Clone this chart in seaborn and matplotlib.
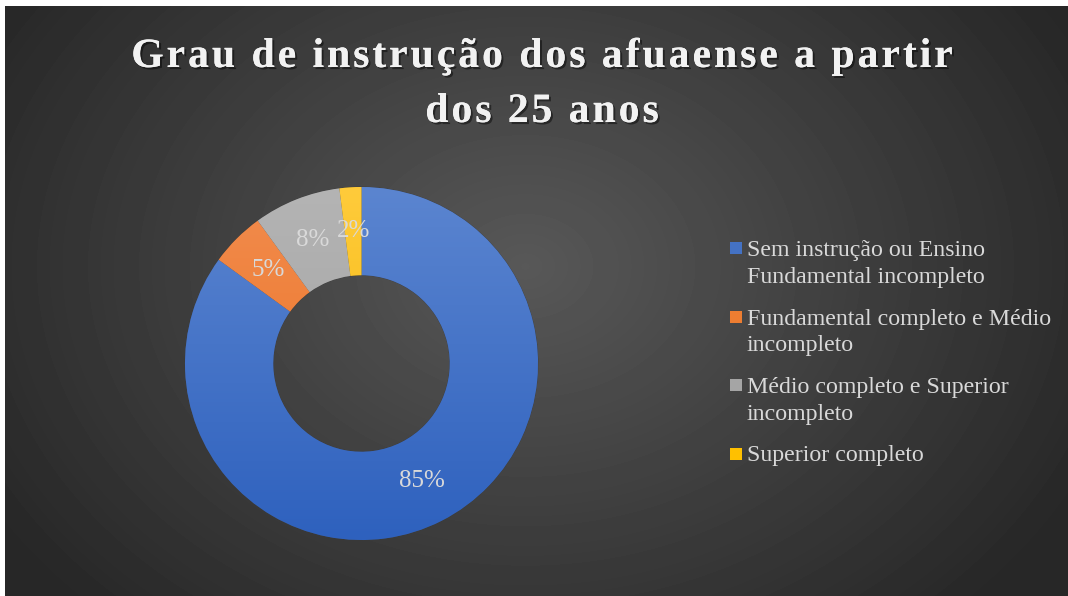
import numpy as np
import seaborn as sns
import matplotlib.pyplot as plt
import matplotlib.patheffects as pe
from matplotlib.colors import to_rgb
from matplotlib.patches import Rectangle
from matplotlib.font_manager import FontProperties

# Dados do gráfico
categorias = [
    "Sem instrução ou Ensino\nFundamental incompleto",
    "Fundamental completo e Médio\nincompleto",
    "Médio completo e Superior\nincompleto",
    "Superior completo",
]
percentuais = [85, 5, 8, 2]
cores = ["#4472C4", "#ED7D31", "#A5A5A5", "#FFC000"]
# tons de topo e de base para o gradiente das fatias
cores_topo = ["#5B85D0", "#F28C4E", "#B4B4B4", "#FFCB3B"]
cores_base = ["#2E61BE", "#E96E1C", "#9E9E9E", "#F0B300"]
titulo = ["Grau de instrução dos afuaense a partir", "dos 25 anos"]

sns.set_theme(style="dark")
plt.rcParams['font.family'] = ['Liberation Serif', 'DejaVu Serif']
serif = FontProperties(family=['Liberation Serif'], size=17.2)
serif_pct = FontProperties(family=['Liberation Serif'], size=18)

W, H = 1068, 596
fig = plt.figure(figsize=(W / 100, H / 100), dpi=100)
fig.patch.set_facecolor('white')

# Fundo com gradiente escuro
bg = fig.add_axes([5 / W, 0, 1 - 5 / W, 1 - 6 / H])
yy, xx = np.mgrid[0:590, 0:1063]
d = np.sqrt(((xx - 520) / 620) ** 2 + ((yy - 260) / 480) ** 2)
shade = np.clip(0.345 - 0.19 * d, 0.155, 0.345)
bg.imshow(shade, cmap='gray', vmin=0, vmax=1, aspect='auto')
bg.axis('off')

# Rosca
R, cx, cy = 176.5, 361.5, 363.5
pax = fig.add_axes([(cx - R) / W, (H - cy - R) / H, 2 * R / W, 2 * R / H])
wedges, textos, autotextos = pax.pie(
    percentuais, colors=cores, startangle=90, counterclock=False, radius=1,
    wedgeprops=dict(width=0.5, edgecolor='#3a3a3a', linewidth=0.4),
    autopct=lambda p: f"{p:.0f}%", pctdistance=0.75,
    textprops=dict(color='#d9d9d9'))
for w, c1, c2 in zip(wedges, cores_topo, cores_base):
    t = np.linspace(0, 1, 200)[:, None, None]
    grad = np.array(to_rgb(c1)) * (1 - t) + np.array(to_rgb(c2)) * t
    grad = np.repeat(grad, 2, axis=1)
    im = pax.imshow(grad, extent=[-1, 1, -1, 1], aspect='auto', zorder=1.5)
    im.set_clip_path(w)
for t in autotextos:
    t.set_fontproperties(serif_pct)
    t.set_zorder(3)
pax.set_xlim(-1, 1)
pax.set_ylim(-1, 1)
pax.axis('off')

# Título com espaçamento entre letras
renderer = fig.canvas.get_renderer()
tprop = FontProperties(family=['Liberation Serif'], weight='bold', size=30)
sombra = [pe.withSimplePatchShadow(offset=(1.5, -1.5), shadow_rgbFace='black', alpha=0.45), pe.Normal()]


def largura(s):
    w1, _, _ = renderer.get_text_width_height_descent(s + '|', tprop, ismath=False)
    w2, _, _ = renderer.get_text_width_height_descent('|', tprop, ismath=False)
    return w1 - w2


def texto_espacado(s, xc, yb, sp):
    total = largura(s) + sp * (len(s) - 1)
    x0 = xc - total / 2
    for i, ch in enumerate(s):
        if ch == ' ':
            continue
        x = x0 + largura(s[:i]) + sp * i
        fig.text(x / W, 1 - yb / H, ch, fontproperties=tprop, color='#f2f2f2',
                 ha='left', va='baseline', path_effects=sombra)


texto_espacado(titulo[0], 542, 67, 3.0)
texto_espacado(titulo[1], 542, 122, 3.0)

# Legenda
for i, (lab, c) in enumerate(zip(categorias, cores)):
    yb = 256 + i * 68.5
    fig.patches.append(Rectangle((730 / W, 1 - (yb - 2) / H), 12 / W, 12 / H,
                                 transform=fig.transFigure, facecolor=c, edgecolor='none'))
    for j, linha in enumerate(lab.split("\n")):
        fig.text(747 / W, 1 - (yb + 27 * j) / H, linha, color='#d9d9d9',
                 fontproperties=serif, ha='left', va='baseline')

fig.savefig("out.png", dpi=100)
